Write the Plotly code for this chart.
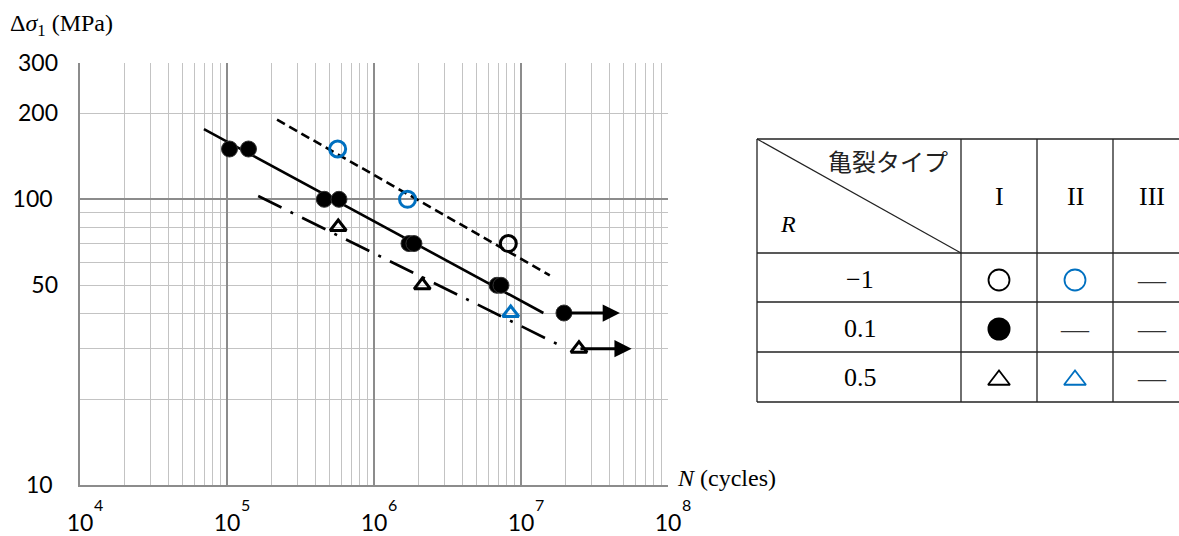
import math
import plotly.graph_objects as go

# ---------------- data ----------------
# R = 0.1, crack type I (filled circles); last point is a run-out
N_r01_I = [1.04e5, 1.40e5, 4.59e5, 5.78e5, 1.73e6, 1.87e6, 6.87e6, 7.31e6, 1.96e7]
S_r01_I = [150, 150, 100, 100, 70, 70, 50, 50, 40]
# R = -1, crack type II (blue open circles)
N_rm1_II = [5.66e5, 1.69e6]
S_rm1_II = [150, 100]
# R = -1, crack type I (black open circle)
N_rm1_I = [8.2e6]
S_rm1_I = [70]
# R = 0.5, crack type I (black open triangles); last point is a run-out
N_r05_I = [5.71e5, 2.13e6, 2.48e7]
S_r05_I = [80, 50, 30]
# R = 0.5, crack type II (blue open triangle)
N_r05_II = [8.51e6]
S_r05_II = [40]

# run-outs (start point -> arrow tip)
runout_N_start = [1.96e7, 2.48e7]
runout_N_tip = [4.71e7, 5.66e7]
runout_S = [40, 30]

# fitted S-N lines (end points)
fit_r01_N = [6.97e4, 1.42e7]
fit_r01_S = [176, 40]
fit_rm1_N = [2.19e5, 1.57e7]
fit_rm1_S = [190, 54.2]
fit_r05_N = [1.63e5, 1.89e7]
fit_r05_S = [102.7, 30.6]

# axes ticks
x_tickvals = [1e4, 1e5, 1e6, 1e7, 1e8]
x_exponents = ["4", "5", "6", "7", "8"]
x_minor = [k * 10 ** e for e in range(4, 8) for k in range(2, 10)]
y_major = [10, 100]
y_major_text = ["10", "100"]
y_extra = [50, 200, 300]
y_extra_text = ["50", "200", "300"]
y_minor = [20, 30, 40, 50, 60, 70, 80, 90, 200, 300]

# legend table contents
tbl_header_left = "亀裂タイプ"
tbl_header_R = "<i>R</i>"
tbl_types = ["I", "II", "III"]
tbl_R_values = ["−1", "0.1", "0.5"]

BLUE = "#0070C0"
SERIF = "Liberation Serif, Times New Roman, serif"
SANS = "Lato, Carlito, Calibri, sans-serif"
CJK = "Noto Sans CJK JP"
DARK = "#8c8c8c"
LIGHT = "#c3c3c3"

# ---------------- geometry (pixels) ----------------
W, H = 1179, 536
L, T, B = 80, 63, 51
PW = W - L
PH = H - T - B
main_right = 668
tbl_x0 = 750


def px(p):
    return (p - L) / PW


def py(p):
    return (H - B - p) / PH


fig = go.Figure()

# fitted lines
fig.add_trace(go.Scatter(x=fit_r01_N, y=fit_r01_S, mode="lines",
                         line=dict(color="black", width=2.6), showlegend=False))
fig.add_trace(go.Scatter(x=fit_rm1_N, y=fit_rm1_S, mode="lines",
                         line=dict(color="black", width=2.6, dash="9px,5px"), showlegend=False))
fig.add_trace(go.Scatter(x=fit_r05_N, y=fit_r05_S, mode="lines",
                         line=dict(color="black", width=2.6, dash="26px,10px,3px,10px"), showlegend=False))

# data points
fig.add_trace(go.Scatter(x=N_r01_I, y=S_r01_I, mode="markers",
                         marker=dict(symbol="circle", size=16, color="black",
                                     line=dict(color="#333", width=1)), showlegend=False))
fig.add_trace(go.Scatter(x=N_rm1_II, y=S_rm1_II, mode="markers",
                         marker=dict(symbol="circle-open", size=16, color=BLUE,
                                     line=dict(width=3)), showlegend=False))
fig.add_trace(go.Scatter(x=N_rm1_I, y=S_rm1_I, mode="markers",
                         marker=dict(symbol="circle-open", size=16, color="black",
                                     line=dict(width=3)), showlegend=False))
fig.add_trace(go.Scatter(x=N_r05_I, y=S_r05_I, mode="markers",
                         marker=dict(symbol="triangle-up-open", size=14, color="black",
                                     line=dict(width=3)), showlegend=False))
fig.add_trace(go.Scatter(x=N_r05_II, y=S_r05_II, mode="markers",
                         marker=dict(symbol="triangle-up-open", size=14, color=BLUE,
                                     line=dict(width=3)), showlegend=False))

# table symbols (in a pixel-scaled helper subplot)
fig.add_trace(go.Scatter(x=[999, 1075], y=[280, 280], xaxis="x2", yaxis="y2", mode="markers",
                         marker=dict(symbol="circle-open", size=21, color=["black", BLUE],
                                     line=dict(width=1.8)), showlegend=False))
fig.add_trace(go.Scatter(x=[999], y=[329], xaxis="x2", yaxis="y2", mode="markers",
                         marker=dict(symbol="circle", size=23, color="black"), showlegend=False))
fig.add_trace(go.Scatter(x=[999, 1075], y=[380, 380], xaxis="x2", yaxis="y2", mode="markers",
                         marker=dict(symbol="triangle-up-open", size=19, color=["black", BLUE],
                                     line=dict(width=1.8)), showlegend=False))

# table grid (paper coords)
shapes = []
cols = [757, 961, 1037, 1113]
rows = [139, 253, 302, 352, 402]
for r in rows:
    shapes.append(dict(type="line", xref="paper", yref="paper", x0=px(757), x1=1,
                       y0=py(r), y1=py(r), line=dict(color="#222", width=1.3)))
for c in cols:
    shapes.append(dict(type="line", xref="paper", yref="paper", x0=px(c), x1=px(c),
                       y0=py(139), y1=py(402), line=dict(color="#222", width=1.3)))
shapes.append(dict(type="line", xref="paper", yref="paper", x0=px(757), x1=px(961),
                   y0=py(139), y1=py(253), line=dict(color="#222", width=1.2)))

annotations = []
# runout arrows
for n0, n1, s in zip(runout_N_start, runout_N_tip, runout_S):
    annotations.append(dict(x=math.log10(n1), y=math.log10(s), ax=math.log10(n0), ay=math.log10(s),
                            xref="x", yref="y", axref="x", ayref="y", text="", showarrow=True,
                            arrowhead=2, arrowwidth=3, arrowsize=1.15, arrowcolor="black", standoff=0))
# x tick exponents
for v, e in zip(x_tickvals, x_exponents):
    annotations.append(dict(x=math.log10(v), y=py(504), xref="x", yref="paper", text=e,
                            xanchor="center", yanchor="middle",
                            showarrow=False, xshift=18, font=dict(family=SANS, size=16, color="black")))
# axis titles
annotations.append(dict(x=px(8), y=py(25), xref="paper", yref="paper", xanchor="left", yanchor="middle",
                        text="Δ<i>σ</i><sub>1</sub> (MPa)", showarrow=False,
                        font=dict(family=SERIF, size=24, color="black")))
annotations.append(dict(x=px(675), y=py(478), xref="paper", yref="paper", xanchor="left", yanchor="middle",
                        text="<i>N</i> (cycles)", showarrow=False,
                        font=dict(family=SERIF, size=24, color="black")))
# table texts
annotations.append(dict(x=888, y=160, xref="x2", yref="y2", text=tbl_header_left, showarrow=False,
                        font=dict(family=CJK, size=24, color="#222")))
annotations.append(dict(x=788, y=224, xref="x2", yref="y2", text=tbl_header_R, showarrow=False,
                        font=dict(family=SERIF, size=24, color="black")))
for xc, t in zip([999, 1075, 1152], tbl_types):
    annotations.append(dict(x=xc, y=196, xref="x2", yref="y2", text=t, showarrow=False,
                            font=dict(family=SERIF, size=26, color="black")))
for yc, t in zip([279, 328, 377], tbl_R_values):
    annotations.append(dict(x=860, y=yc, xref="x2", yref="y2", text=t, showarrow=False,
                            font=dict(family=SERIF, size=26, color="black")))
for xc, yc in [(1152, 279), (1075, 328), (1152, 328), (1152, 377)]:
    annotations.append(dict(x=xc, y=yc, xref="x2", yref="y2", text="—", showarrow=False,
                            font=dict(family=SERIF, size=28, color="#333")))

tickfont = dict(family=SANS, size=23, color="black")
fig.update_layout(
    width=W, height=H,
    margin=dict(l=L, r=0, t=T, b=B, pad=0, autoexpand=False),
    paper_bgcolor="white", plot_bgcolor="white",
    showlegend=False,
    shapes=shapes, annotations=annotations,
    xaxis=dict(type="log", range=[4, 8], domain=[0, px(main_right)],
               tickvals=x_tickvals, ticktext=["10"] * len(x_tickvals),
               tickfont=tickfont, ticklabelstandoff=17, automargin=False,
               showgrid=True, gridcolor=DARK, gridwidth=1.6,
               minor=dict(tickvals=x_minor, showgrid=True, gridcolor=LIGHT, gridwidth=1.4, ticks=""),
               showline=True, linecolor=DARK, linewidth=1.6, ticks="", zeroline=False),
    yaxis=dict(type="log", range=[1, math.log10(300)], domain=[0, 1],
               tickvals=y_major, ticktext=y_major_text, automargin=False,
               tickfont=tickfont, ticklabelstandoff=21,
               showgrid=True, gridcolor=DARK, gridwidth=1.6,
               minor=dict(tickvals=y_minor, showgrid=True, gridcolor=LIGHT, gridwidth=1.4, ticks=""),
               showline=True, linecolor=DARK, linewidth=1.6, ticks="", zeroline=False),
    yaxis3=dict(type="log", range=[1, math.log10(300)], overlaying="y", side="left",
                tickvals=y_extra, ticktext=y_extra_text, tickfont=tickfont, ticklabelstandoff=21,
                automargin=False, autoshift=False,
                showgrid=False, showline=False, ticks="", zeroline=False),
    xaxis2=dict(domain=[px(tbl_x0), 1], range=[tbl_x0, W], anchor="y2", visible=False, automargin=False),
    yaxis2=dict(domain=[0, 1], range=[H - B, T], anchor="x2", visible=False, automargin=False),
)
# dummy invisible trace so yaxis3 is rendered
fig.add_trace(go.Scatter(x=[1e4], y=[10], yaxis="y3", mode="markers",
                         marker=dict(opacity=0), hoverinfo="skip", showlegend=False))

fig.write_html("out.html")
